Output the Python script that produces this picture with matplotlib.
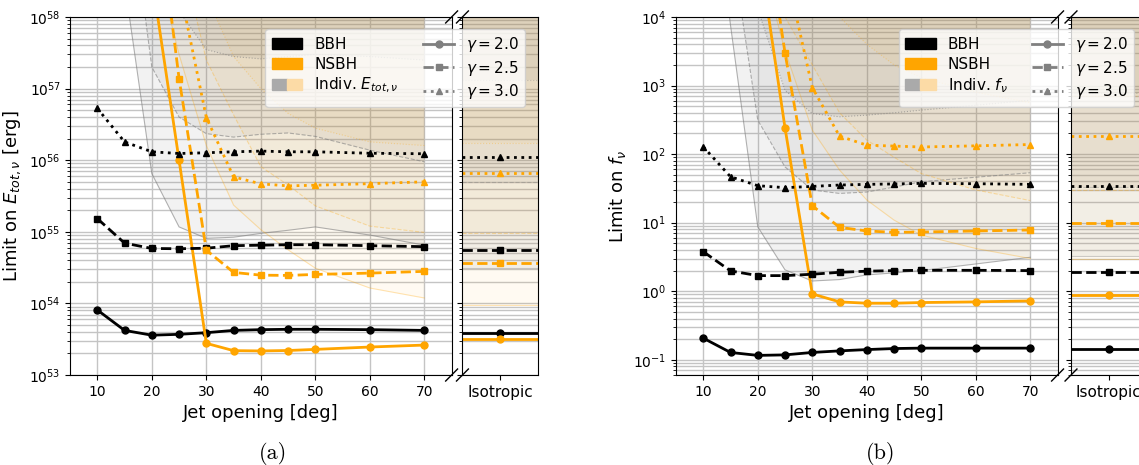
import matplotlib.pyplot as plt
import numpy as np
from matplotlib.patches import Patch
from matplotlib.lines import Line2D
from matplotlib.legend_handler import HandlerTuple

# jet opening angles [deg]
jet = [10, 15, 20, 25, 30, 35, 40, 45, 50, 60, 70]

# (a) limits on E_tot,nu [erg]
E_bbh_g20 = [8.1e53, 4.2e53, 3.6e53, 3.7e53, 3.9e53, 4.2e53, 4.3e53, 4.35e53, 4.35e53, 4.3e53, 4.2e53]
E_bbh_g25 = [1.53e55, 6.95e54, 5.85e54, 5.8e54, 5.9e54, 6.4e54, 6.5e54, 6.6e54, 6.6e54, 6.4e54, 6.2e54]
E_bbh_g30 = [5.3e56, 1.8e56, 1.31e56, 1.24e56, 1.27e56, 1.31e56, 1.34e56, 1.31e56, 1.31e56, 1.25e56, 1.23e56]
E_nsbh_g20 = [1e62, 1e60, 3.6e58, 1.0e56, 2.77e53, 2.19e53, 2.17e53, 2.2e53, 2.28e53, 2.46e53, 2.62e53]
E_nsbh_g25 = [1e63, 1e61, 1.5e60, 1.38e57, 5.55e54, 2.71e54, 2.48e54, 2.46e54, 2.54e54, 2.65e54, 2.8e54]
E_nsbh_g30 = [1e64, 1e62, 1e60, 2.8e58, 3.94e56, 5.85e55, 4.67e55, 4.38e55, 4.47e55, 4.7e55, 4.99e55]

# (a) lowest individual-event limits
Eind_bbh_g20 = [1e61, 3e58, 6.5e55, 1.17e55, 8.1e54, 8.4e54, 9.5e54, 1.05e55, 1.17e55, 9e54, 6.5e54]
Eind_bbh_g25 = [1e62, 1.6e60, 2e57, 4e56, 2.35e56, 2.1e56, 2.3e56, 2.4e56, 2.15e56, 1.38e56, 9.5e55]
Eind_bbh_g30 = [1e63, 1e61, 3e59, 1.2e58, 3.5e57, 2.8e57, 2.6e57, 2.8e57, 3e57, 2.8e57, 2.5e57]
Eind_nsbh_g20 = [1e62, 1e60, 1e59, 3e57, 1.6e56, 2.36e55, 1.07e55, 5.6e54, 3.1e54, 1.64e54, 1.19e54]
Eind_nsbh_g25 = [1e63, 1e61, 1e60, 1e59, 2.5e57, 4.3e56, 8.1e55, 4.5e55, 2.3e55, 1.2e55, 9.8e54]
Eind_nsbh_g30 = [1e64, 1e62, 1e61, 1e60, 2e58, 2.8e57, 1e57, 4.5e56, 2.8e56, 1.8e56, 1.6e56]

# (a) isotropic, order gamma = 2.0, 2.5, 3.0
Eiso_bbh = [3.86e53, 5.55e54, 1.1e56]
Eiso_nsbh = [3.2e53, 3.61e54, 6.7e55]
Eiso_ind_bbh = [3.1e54, 4.9e55, 1.3e57]
Eiso_ind_nsbh = [9.5e53, 9.5e54, 1.75e56]

# (b) limits on f_nu
f_bbh_g20 = [0.207, 0.128, 0.116, 0.118, 0.128, 0.135, 0.141, 0.146, 0.148, 0.148, 0.148]
f_bbh_g25 = [3.78, 1.98, 1.69, 1.69, 1.77, 1.89, 1.96, 2.0, 2.02, 2.02, 2.0]
f_bbh_g30 = [128, 46.8, 34.6, 32.4, 33.8, 35.4, 36.2, 36.7, 37.4, 37, 36.2]
f_nsbh_g20 = [1e8, 1e7, 1.2e5, 241, 0.915, 0.70, 0.668, 0.668, 0.684, 0.70, 0.723]
f_nsbh_g25 = [1e9, 1e8, 1.3e6, 2990, 17.7, 8.55, 7.57, 7.23, 7.3, 7.57, 7.82]
f_nsbh_g30 = [1e10, 1e9, 1e7, 5.6e4, 935, 183, 135, 131, 127, 132, 138]

find_bbh_g20 = [1e7, 7600, 8.7, 2.05, 1.41, 1.48, 1.73, 1.85, 2.0, 2.5, 3.13]
find_bbh_g25 = [1e8, 1.3e5, 313, 65, 30, 26.7, 28, 33, 39.5, 46, 53.5]
find_bbh_g30 = [1e9, 1e7, 1.3e4, 850, 391, 350, 370, 400, 438, 515, 611]
find_nsbh_g20 = [1e8, 1e7, 1e5, 3200, 224, 58.5, 21.4, 10.9, 6.6, 4.2, 3.0]
find_nsbh_g25 = [1e9, 1e8, 1e6, 1e4, 2000, 400, 160, 90, 52, 30, 21]
find_nsbh_g30 = [1e10, 1e9, 1e7, 1e5, 6e4, 1e4, 4000, 2000, 1300, 800, 560]

fiso_bbh = [0.145, 1.89, 34.6]
fiso_nsbh = [0.875, 10.0, 185]
fiso_ind_bbh = [3.26, 33, 770]
fiso_ind_nsbh = [3.0, 29.6, 700]

gammas = ['2.0', '2.5', '3.0']
styles = ['-', '--', ':']
markers = ['o', 's', '^']
ORANGE = 'orange'
TOP = 1e80
A_GRAY = 0.1
A_ORANGE = 0.05

fig = plt.figure(figsize=(11.39, 4.65), dpi=100)


def make_panel(xl, xiso, ylim, ylabel, combined, indiv, iso, iso_ind, indiv_label, leg_x):
    ax = fig.add_axes([xl, 0.1935, 0.335, 0.770])
    axi = fig.add_axes([xiso, 0.1935, 0.0663, 0.770])

    # shading from individual events
    for k in range(3):
        ax.fill_between(jet, indiv[0][k], TOP, color='gray', alpha=A_GRAY, lw=0)
        ax.plot(jet, indiv[0][k], color='gray', ls=styles[k], lw=0.8, alpha=0.6)
        ax.fill_between(jet, indiv[1][k], TOP, color=ORANGE, alpha=A_ORANGE, lw=0)
        ax.plot(jet, indiv[1][k], color=ORANGE, ls=styles[k], lw=0.8, alpha=0.3)
        axi.axhspan(iso_ind[0][k], TOP, color='gray', alpha=A_GRAY, lw=0)
        axi.axhline(iso_ind[0][k], color='gray', ls=styles[k], lw=0.8, alpha=0.4)
        axi.axhspan(iso_ind[1][k], TOP, color=ORANGE, alpha=A_ORANGE, lw=0)
        axi.axhline(iso_ind[1][k], color=ORANGE, ls=styles[k], lw=0.8, alpha=0.3)

    for k in range(3):
        ax.plot(jet, combined[0][k], color='black', ls=styles[k], marker=markers[k], ms=5, lw=2)
        ax.plot(jet, combined[1][k], color=ORANGE, ls=styles[k], marker=markers[k], ms=5, lw=2)
        axi.axhline(iso[0][k], color='black', ls=styles[k], lw=2)
        axi.plot([0], [iso[0][k]], color='black', marker=markers[k], ms=5)
        axi.axhline(iso[1][k], color=ORANGE, ls=styles[k], lw=2)
        axi.plot([0], [iso[1][k]], color=ORANGE, marker=markers[k], ms=5)

    for a in (ax, axi):
        a.set_yscale('log')
        a.set_ylim(*ylim)
        a.grid(True, which='both', axis='y', color='#c4c4c4', lw=1.0)
        a.set_axisbelow(True)
        a.tick_params(labelsize=10)
    ax.grid(True, which='major', axis='x', color='#c4c4c4', lw=1.0)
    ax.set_xlim(5, 75)
    ax.set_xticks([10, 20, 30, 40, 50, 60, 70])
    ax.set_xlabel('Jet opening [deg]', fontsize=13)
    ax.set_ylabel(ylabel, fontsize=13)
    axi.set_xlim(-1, 1)
    axi.set_xticks([0])
    axi.set_xticklabels(['Isotropic'], fontsize=11)
    axi.tick_params(axis='y', which='both', labelleft=False)
    axi.xaxis.grid(False)

    # broken-axis marks
    d = 0.012
    kw = dict(color='k', clip_on=False, lw=1)
    ax.plot((1 - d * 1.3, 1 + d * 1.3), (-d * 1.4, d * 1.4), transform=ax.transAxes, **kw)
    ax.plot((1 - d * 1.3, 1 + d * 1.3), (1 - d * 1.4, 1 + d * 1.4), transform=ax.transAxes, **kw)
    r = 0.335 / 0.0663
    axi.plot((-d * 1.3 * r, d * 1.3 * r), (-d * 1.4, d * 1.4), transform=axi.transAxes, **kw)
    axi.plot((-d * 1.3 * r, d * 1.3 * r), (1 - d * 1.4, 1 + d * 1.4), transform=axi.transAxes, **kw)

    handles = [Patch(color='black'), Patch(color=ORANGE),
               (Patch(color='#aaaaaa'), Patch(color='#fcdba6')),
               Line2D([], [], color='gray', ls='-', marker='o', ms=5, lw=2),
               Line2D([], [], color='gray', ls='--', marker='s', ms=5, lw=2),
               Line2D([], [], color='gray', ls=':', marker='^', ms=5, lw=2)]
    labels = ['BBH', 'NSBH', indiv_label] + [r'$\gamma = %s$' % g for g in gammas]
    fig.legend(handles, labels, ncol=2, loc='upper right', bbox_to_anchor=(leg_x, 0.938),
               borderaxespad=0, fontsize=11,
               handler_map={tuple: HandlerTuple(ndivide=None, pad=0)},
               handlelength=2.0, columnspacing=1.6, borderpad=0.4, labelspacing=0.3)
    return ax, axi


make_panel(0.0615, 0.406, (1e53, 1e58), r'Limit on $E_{tot,\nu}$ [erg]',
           [[E_bbh_g20, E_bbh_g25, E_bbh_g30], [E_nsbh_g20, E_nsbh_g25, E_nsbh_g30]],
           [[Eind_bbh_g20, Eind_bbh_g25, Eind_bbh_g30], [Eind_nsbh_g20, Eind_nsbh_g25, Eind_nsbh_g30]],
           [Eiso_bbh, Eiso_nsbh], [Eiso_ind_bbh, Eiso_ind_nsbh],
           r'Indiv. $E_{tot,\nu}$', 0.461)

make_panel(0.5935, 0.9403, (0.06, 1e4), r'Limit on $f_\nu$',
           [[f_bbh_g20, f_bbh_g25, f_bbh_g30], [f_nsbh_g20, f_nsbh_g25, f_nsbh_g30]],
           [[find_bbh_g20, find_bbh_g25, find_bbh_g30], [find_nsbh_g20, find_nsbh_g25, find_nsbh_g30]],
           [fiso_bbh, fiso_nsbh], [fiso_ind_bbh, fiso_ind_nsbh],
           r'Indiv. $f_\nu$', 0.9956)

fig.text(0.24, 0.012, '(a)', fontsize=16, family='cmr10', ha='center')
fig.text(0.773, 0.012, '(b)', fontsize=16, family='cmr10', ha='center')

plt.savefig('out.png', dpi=100)
